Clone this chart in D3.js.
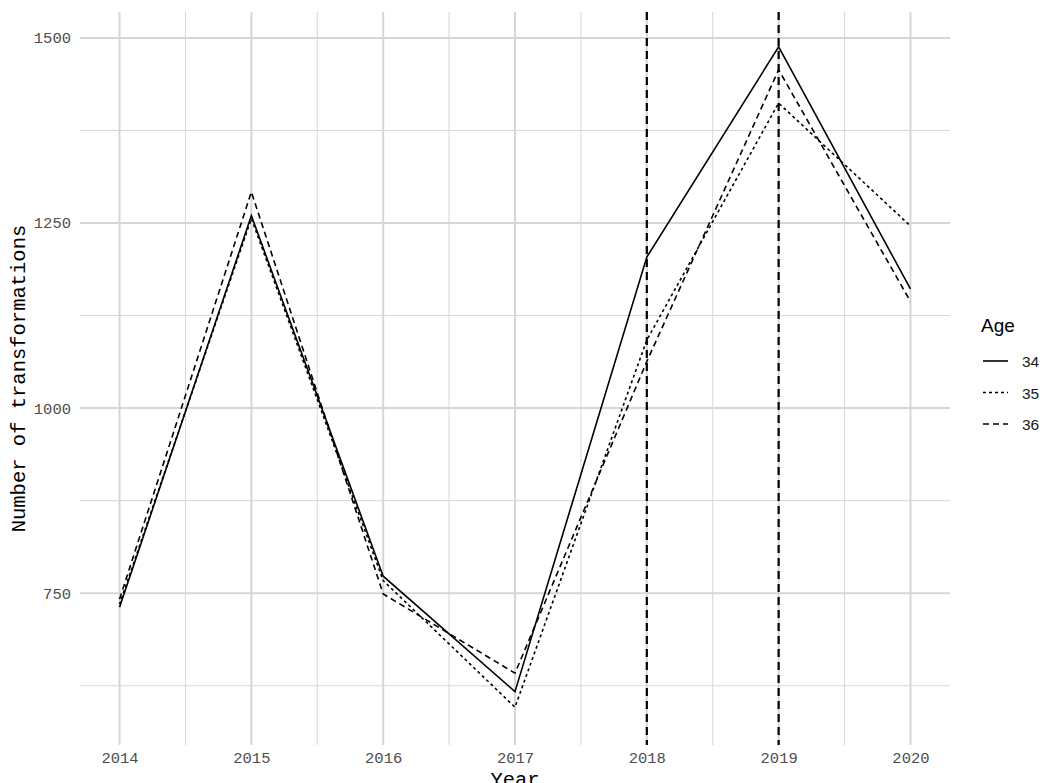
<!DOCTYPE html>
<html>
<head>
<meta charset="utf-8">
<script src="https://cdn.jsdelivr.net/npm/d3@7"></script>
<style>
  body { margin: 0; background: #fff; }
</style>
</head>
<body>
<div id="chart"></div>
<script>
let width = 1050
let height = 783

let years = [2014, 2015, 2016, 2017, 2018, 2019, 2020]
let ages = ['34', '35', '36']
let age34 = [731, 1260, 773, 617, 1204, 1488, 1161]
let age35 = [735, 1256, 767, 596, 1092, 1412, 1246]
let age36 = [742, 1292, 749, 642, 1063, 1457, 1144]
let markedYears = [2018, 2019]
let yTicks = [750, 1000, 1250, 1500]
let yMinor = [625, 875, 1125, 1375]

let seriesValues = [age34, age35, age36]
let dashes = ['none', '3,3', '6,4']

let margin = { top: 12, right: 100, bottom: 38, left: 80 }

let xScale = d3.scaleLinear()
  .domain([2013.7, 2020.3])
  .range([margin.left, width - margin.right])

let yScale = d3.scaleLinear()
  .domain([545, 1535])
  .range([height - margin.bottom, margin.top])

let svg = d3.select('#chart').append('svg')
  .attr('width', width)
  .attr('height', height)

let grid = svg.append('g')

// minor grid
grid.selectAll('.ymin').data(yMinor).enter().append('line')
  .attr('x1', margin.left).attr('x2', width - margin.right)
  .attr('y1', d => yScale(d)).attr('y2', d => yScale(d))
  .attr('stroke', '#d6d6d6').attr('stroke-width', 1)

grid.selectAll('.xmin').data(years.slice(0, -1).map(d => d + 0.5)).enter().append('line')
  .attr('y1', margin.top).attr('y2', height - margin.bottom)
  .attr('x1', d => xScale(d)).attr('x2', d => xScale(d))
  .attr('stroke', '#d6d6d6').attr('stroke-width', 1)

// major grid
grid.selectAll('.ymaj').data(yTicks).enter().append('line')
  .attr('x1', margin.left).attr('x2', width - margin.right)
  .attr('y1', d => yScale(d)).attr('y2', d => yScale(d))
  .attr('stroke', '#d6d6d6').attr('stroke-width', 2)

grid.selectAll('.xmaj').data(years).enter().append('line')
  .attr('y1', margin.top).attr('y2', height - margin.bottom)
  .attr('x1', d => xScale(d)).attr('x2', d => xScale(d))
  .attr('stroke', '#d6d6d6').attr('stroke-width', 2)

// axes (text only)
let xAxis = svg.append('g')
  .attr('transform', 'translate(0,' + (height - margin.bottom) + ')')
  .call(d3.axisBottom(xScale).tickValues(years).tickFormat(d => d.toString()).tickSize(0).tickPadding(7))
xAxis.select('.domain').remove()
xAxis.selectAll('text')
  .attr('font-family', 'Liberation Mono, monospace')
  .attr('font-size', 15.5).attr('fill', '#4d4d4d')

let yAxis = svg.append('g')
  .attr('transform', 'translate(' + margin.left + ',0)')
  .call(d3.axisLeft(yScale).tickValues(yTicks).tickFormat(d3.format('d')).tickSize(0).tickPadding(9))
yAxis.select('.domain').remove()
yAxis.selectAll('text')
  .attr('font-family', 'Liberation Mono, monospace')
  .attr('font-size', 15.5).attr('fill', '#4d4d4d')

svg.append('text')
  .attr('x', (margin.left + width - margin.right) / 2)
  .attr('y', 786)
  .attr('text-anchor', 'middle')
  .attr('font-family', 'Liberation Mono, monospace')
  .attr('font-size', 20.5)
  .text('Year')

svg.append('text')
  .attr('transform', 'translate(25,' + ((margin.top + height - margin.bottom) / 2) + ') rotate(-90)')
  .attr('text-anchor', 'middle')
  .attr('font-family', 'Liberation Mono, monospace')
  .attr('font-size', 20.5)
  .text('Number of transformations')

// lines
let line = d3.line()
  .x((d, i) => xScale(years[i]))
  .y(d => yScale(d))

svg.selectAll('.series').data(seriesValues).enter().append('path')
  .attr('d', d => line(d))
  .attr('fill', 'none')
  .attr('stroke', '#000')
  .attr('stroke-width', 1.6)
  .attr('stroke-dasharray', (d, i) => dashes[i])

// vertical markers
svg.selectAll('.vmark').data(markedYears).enter().append('line')
  .attr('x1', d => xScale(d)).attr('x2', d => xScale(d))
  .attr('y1', margin.top).attr('y2', height - margin.bottom)
  .attr('stroke', '#000').attr('stroke-width', 2.2)
  .attr('stroke-dasharray', '8,5')

// legend
let legend = svg.append('g').attr('transform', 'translate(981,0)')
legend.append('text')
  .attr('x', 0).attr('y', 332)
  .attr('font-family', 'Liberation Sans, Arial, sans-serif')
  .attr('font-size', 19)
  .text('Age')

let keys = legend.selectAll('.key').data(ages).enter().append('g')
  .attr('transform', (d, i) => 'translate(0,' + (361 + i * 31.5) + ')')
keys.append('line')
  .attr('x1', 2).attr('x2', 27).attr('y1', 0).attr('y2', 0)
  .attr('stroke', '#000').attr('stroke-width', 1.6)
  .attr('stroke-dasharray', (d, i) => dashes[i])
keys.append('text')
  .attr('x', 41).attr('y', 6)
  .attr('font-family', 'Liberation Sans, Arial, sans-serif')
  .attr('font-size', 15.5)
  .attr('fill', '#1a1a1a')
  .text(d => d)
</script>
</body>
</html>
